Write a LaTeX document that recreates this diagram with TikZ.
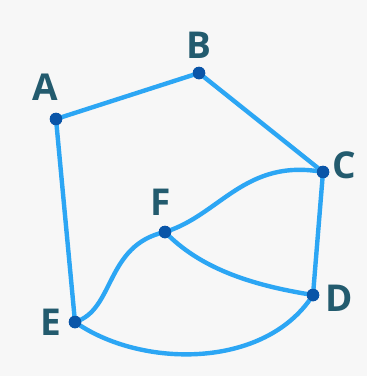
\documentclass[tikz,border=0pt]{standalone}
\usepackage{fontspec}
\setmainfont{Open Sans}
\definecolor{bgGray}{HTML}{F7F7F7}
\definecolor{edgeBlue}{HTML}{2CA6F4}
\definecolor{dotBlue}{HTML}{0A55A8}
\definecolor{labTeal}{HTML}{235B6E}

\begin{document}
\begin{tikzpicture}[
  x=1pt, y=-1pt,
  vertex/.style={circle, fill=dotBlue, inner sep=0pt, minimum size=12.5pt},
  edge/.style={draw=edgeBlue, line width=4.4pt, line cap=round},
  lab/.style={text=labTeal, font=\fontsize{37}{40}\selectfont\bfseries, inner sep=0pt}
]
\fill[bgGray] (0,0) rectangle (367,376);
\useasboundingbox (0,0) rectangle (367,376);

% vertices
\node[vertex] (A) at (56,119) {};
\node[vertex] (B) at (199,73) {};
\node[vertex] (C) at (323,172) {};
\node[vertex] (D) at (313,295) {};
\node[vertex] (E) at (75,322) {};
\node[vertex] (F) at (165,232) {};

% labels
\node[lab] (labA) at (45,87) {A};
\node[lab] (labB) at (199,45) {B};
\node[lab] (labC) at (344,165) {C};
\node[lab] (labD) at (339,298) {D};
\node[lab] (labE) at (51,322) {E};
\node[lab] (labF) at (161,202) {F};

% edges
\path[edge] (A.center) -- (B.center) -- (C.center) -- (D.center);
\path[edge] (A.center) -- (E.center);
\path[edge] (F.center) .. controls (220,215) and (245,158) .. (C.center);
\path[edge] (F.center) .. controls (200,268) and (250,285) .. (D.center);
\path[edge] (E.center) .. controls (115,310) and (105,245) .. (F.center);
\path[edge] (E.center) .. controls (140,368) and (265,370) .. (D.center);

% dots on top
\foreach \v in {A,B,C,D,E,F}
  \fill[dotBlue] (\v) circle (6.25pt);
\end{tikzpicture}
\end{document}
